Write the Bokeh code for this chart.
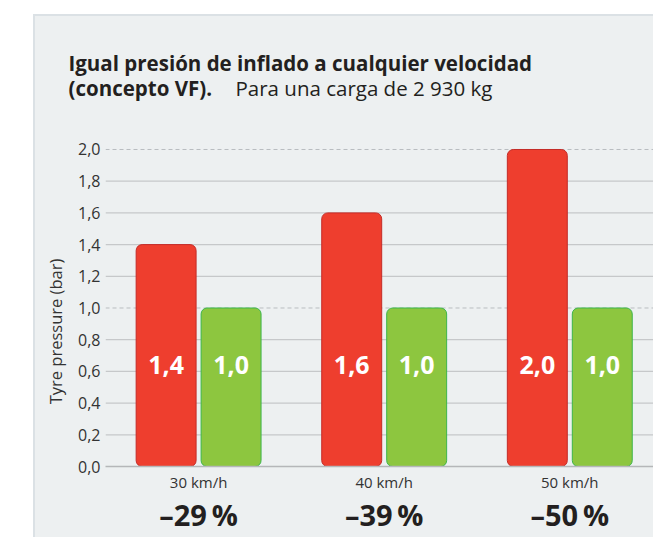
import math
from bokeh.plotting import figure
from bokeh.models import (Range1d, FixedTicker, Span, Spacer, ColumnDataSource,
                          LinearAxis)
from bokeh.layouts import row, column
from bokeh.transform import dodge
from bokeh.embed import file_html
from bokeh.resources import INLINE
from bokeh.core.properties import value

# ---------------- data ----------------
categories = ["30 km/h", "40 km/h", "50 km/h"]
standard_pressure = [1.4, 1.6, 2.0]
vf_pressure = [1.0, 1.0, 1.0]
reduction_labels = ["\u201329\u2009%", "\u201339\u2009%", "\u201350\u2009%"]
y_ticks = [0.0, 0.2, 0.4, 0.6, 0.8, 1.0, 1.2, 1.4, 1.6, 1.8, 2.0]
y_tick_labels = ["0,0", "0,2", "0,4", "0,6", "0,8", "1,0", "1,2", "1,4", "1,6", "1,8", "2,0"]

title_line1 = "Igual presión de inflado a cualquier velocidad"
title_line2_bold = "(concepto VF)."
title_line2_normal = "Para una carga de 2 930 kg"
y_axis_title = "Tyre pressure (bar)"

# ---------------- styles / layout ----------------
FONT = "Open Sans"
PANEL = "#edf0f1"
BORDER = "#dbe1e5"
RED = "#ee3e2e"
RED_EDGE = "#c42b27"
GREEN = "#8dc63f"
GREEN_EDGE = "#3cb54a"
TEXT = "#231f20"
TICK_TEXT = "#333333"
GRID = "#c6c8ca"
OFFSET = 0.175
BAR_W = 0.323
LABEL_Y = 0.64

PANEL_X, PANEL_Y = 35, 16            # page position of panel content
PANEL_W, PANEL_H = 618, 521
TITLE_H = 100
YLAB_W = 32
MAIN_W = PANEL_W - YLAB_W
MAIN_H = PANEL_H - TITLE_H
YLAB_BOX_H = 170
YLAB_CENTER = 331                    # page y of the y-title centre

X0, X1 = -0.5016, 2.451
Y0, Y1 = 0.0, 2.0126


def fmt(v):
    return f"{v:.1f}".replace(".", ",")


def bare_fig(w, h):
    f = figure(width=w, height=h, x_range=Range1d(0, w), y_range=Range1d(0, h),
               x_axis_type=None, y_axis_type=None, output_backend="svg",
               toolbar_location=None, min_border=0)
    f.background_fill_color = PANEL
    f.border_fill_color = PANEL
    f.outline_line_color = None
    f.xgrid.visible = False
    f.ygrid.visible = False
    return f


# ---------------- title strip ----------------
tf = bare_fig(PANEL_W, TITLE_H)


def tx(px):
    return px - PANEL_X


def ty(py):
    return TITLE_H - (py - PANEL_Y)


TITLE_SHIFT = 8   # empirical baseline correction
tf.text(x=[tx(68)], y=[ty(70 - TITLE_SHIFT)], text=[title_line1], text_align="left",
        text_baseline="alphabetic", text_font=value(FONT), text_font_style="bold",
        text_font_size="20.5px", text_color=TEXT)
tf.text(x=[tx(68)], y=[ty(95 - TITLE_SHIFT)], text=[title_line2_bold], text_align="left",
        text_baseline="alphabetic", text_font=value(FONT), text_font_style="bold",
        text_font_size="20.5px", text_color=TEXT)
tf.text(x=[tx(235)], y=[ty(95 - TITLE_SHIFT)], text=[title_line2_normal], text_align="left",
        text_baseline="alphabetic", text_font=value(FONT),
        text_font_size="20.5px", text_color=TEXT)

# ---------------- y title strip ----------------
yf = bare_fig(YLAB_W, YLAB_BOX_H)
yf.text(x=[55 - PANEL_X], y=[YLAB_BOX_H / 2], text=[y_axis_title],
        angle=math.pi / 2, text_align="center", text_baseline="middle",
        text_font=value(FONT), text_font_size="16.5px", text_color=TICK_TEXT)
gap_above = YLAB_CENTER - YLAB_BOX_H // 2 - PANEL_Y - TITLE_H
ycol = column(Spacer(width=YLAB_W, height=gap_above), yf,
              Spacer(width=YLAB_W, height=MAIN_H - gap_above - YLAB_BOX_H))

# ---------------- main chart ----------------
idx = list(range(len(categories)))
src = ColumnDataSource(dict(
    x=idx,
    std=standard_pressure,
    vf=vf_pressure,
    std_lbl=[fmt(v) for v in standard_pressure],
    vf_lbl=[fmt(v) for v in vf_pressure],
    lbl_y=[LABEL_Y] * len(idx),
))

p = figure(width=MAIN_W, height=MAIN_H,
           x_range=Range1d(X0, X1), y_range=Range1d(Y0, Y1),
           output_backend="svg", toolbar_location=None,
           min_border_left=105 - PANEL_X - YLAB_W, min_border_right=0,
           min_border_top=147 - PANEL_Y - TITLE_H, min_border_bottom=537 - 466)
p.background_fill_color = PANEL
p.border_fill_color = PANEL
p.outline_line_color = None
p.xgrid.visible = False
p.ygrid.visible = False

# y axis
p.yaxis.ticker = FixedTicker(ticks=y_ticks)
p.yaxis.major_label_overrides = {t: l for t, l in zip(y_ticks, y_tick_labels)}
p.yaxis.axis_line_color = None
p.yaxis.major_tick_line_color = None
p.yaxis.major_tick_out = 0
p.yaxis.major_tick_in = 0
p.yaxis.minor_tick_line_color = None
p.yaxis.major_label_standoff = 5
p.yaxis.major_label_text_font = FONT
p.yaxis.major_label_text_font_size = "16px"
p.yaxis.major_label_text_color = TICK_TEXT

# x axis (categories)
p.xaxis.ticker = FixedTicker(ticks=idx)
p.xaxis.major_label_overrides = {i: c for i, c in zip(idx, categories)}
p.xaxis.axis_line_color = "#b5b7b9"
p.xaxis.axis_line_width = 1.5
p.xaxis.major_tick_line_color = None
p.xaxis.major_tick_out = 0
p.xaxis.major_tick_in = 0
p.xaxis.minor_tick_line_color = None
p.xaxis.major_label_standoff = 5
p.xaxis.major_label_text_font = FONT
p.xaxis.major_label_text_font_size = "15px"
p.xaxis.major_label_text_color = TICK_TEXT

# second x axis (reductions)
ax2 = LinearAxis(ticker=FixedTicker(ticks=idx),
                 major_label_overrides={i: r for i, r in zip(idx, reduction_labels)})
ax2.axis_line_color = None
ax2.major_tick_line_color = None
ax2.major_tick_out = 0
ax2.major_tick_in = 0
ax2.minor_tick_line_color = None
ax2.major_label_standoff = 0
ax2.major_label_text_font = FONT
ax2.major_label_text_font_style = "bold"
ax2.major_label_text_font_size = "29px"
ax2.major_label_text_color = TEXT
p.add_layout(ax2, "below")

# gridlines
for t in y_ticks:
    if t <= 0:
        continue
    dashed = abs(t - round(t)) < 1e-9
    p.add_layout(Span(location=t, dimension="width", level="underlay",
                      line_color="#b9bdc0" if dashed else GRID,
                      line_width=1 if dashed else 1.3,
                      line_dash="4 3" if dashed else "solid"))

# bars
p.vbar(x=dodge("x", -OFFSET, range=p.x_range), top="std", width=BAR_W, source=src,
       fill_color=RED, line_color=RED_EDGE, line_width=1, border_radius=6)
p.vbar(x=dodge("x", OFFSET, range=p.x_range), top="vf", width=BAR_W, source=src,
       fill_color=GREEN, line_color=GREEN_EDGE, line_width=1, border_radius=6)

# bar value labels
p.text(x=dodge("x", -OFFSET, range=p.x_range), y="lbl_y", text="std_lbl", source=src,
       text_align="center", text_baseline="middle", text_color="white",
       text_font=value(FONT), text_font_style="bold", text_font_size="25px")
p.text(x=dodge("x", OFFSET, range=p.x_range), y="lbl_y", text="vf_lbl", source=src,
       text_align="center", text_baseline="middle", text_color="white",
       text_font=value(FONT), text_font_style="bold", text_font_size="25px")

# ---------------- page layout ----------------
top_bar = Spacer(width=PANEL_W + 2, height=2, styles={"background-color": BORDER})
left_bar = Spacer(width=2, height=PANEL_H, styles={"background-color": BORDER})
body = column(tf, row(ycol, p), styles={"background-color": PANEL})
inner = column(top_bar, row(left_bar, body))
layout = row(Spacer(width=PANEL_X - 2, height=1),
             column(Spacer(width=1, height=PANEL_Y - 2), inner))

open("out.html", "w").write(file_html(layout, INLINE))
